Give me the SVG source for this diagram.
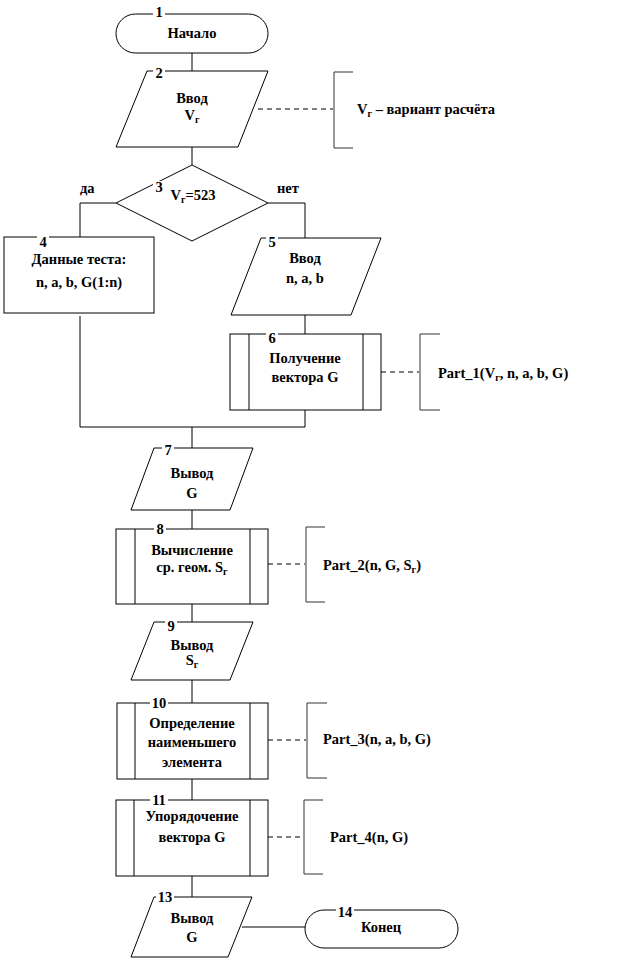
<svg xmlns="http://www.w3.org/2000/svg" width="622" height="960" viewBox="0 0 622 960">
<style>
.s{fill:#fff;stroke:#000;stroke-width:1}
.l{fill:none;stroke:#000;stroke-width:1}
.d{fill:none;stroke:#000;stroke-width:1;stroke-dasharray:5,4}
.b{fill:none;stroke:#333;stroke-width:1}
text{font-family:"Liberation Serif","Times New Roman",serif;font-weight:bold;font-size:14.5px;fill:#000}
.c{text-anchor:middle}
.sub{font-size:10px}
.nb{fill:#fff;stroke:none}
</style>
<rect width="622" height="960" fill="#fff"/>
<g id="connectors">
<line class="l" x1="192" y1="53" x2="192" y2="71"/>
<line class="l" x1="192" y1="147" x2="192" y2="165"/>
<polyline class="l" points="116,203 80,203 80,237"/>
<polyline class="l" points="268,203 305,203 305,238"/>
<line class="l" x1="305" y1="315" x2="305" y2="334"/>
<line class="l" x1="80" y1="316" x2="80" y2="427"/>
<polyline class="l" points="80,427 305,427 305,410"/>
<line class="l" x1="192" y1="427" x2="192" y2="448"/>
<line class="l" x1="192" y1="510" x2="192" y2="529"/>
<line class="l" x1="192" y1="604" x2="192" y2="622"/>
<line class="l" x1="192" y1="680" x2="192" y2="703"/>
<line class="l" x1="192" y1="779" x2="192" y2="800"/>
<line class="l" x1="192" y1="876" x2="192" y2="897"/>
<line class="l" x1="242" y1="927" x2="305" y2="927"/>
<line class="d" x1="258" y1="109" x2="333" y2="109"/>
<line class="d" x1="381" y1="372" x2="419" y2="372"/>
<line class="d" x1="268" y1="564" x2="305" y2="564"/>
<line class="d" x1="268" y1="740" x2="306" y2="740"/>
<line class="d" x1="268" y1="837" x2="303" y2="837"/>
</g>
<g id="n1">
<rect class="s" x="116" y="14" width="152" height="39" rx="19.5"/>
<rect class="nb" x="153" y="8" width="12" height="10"/>
<text class="c" x="159" y="17">1</text>
<text class="c" x="192" y="38">Начало</text>
</g>
<g id="n2">
<polygon class="s" points="147,71 268,71 238,147 116,147"/>
<rect class="nb" x="153" y="68" width="12" height="6"/>
<text class="c" x="159" y="78">2</text>
<text class="c" x="192" y="103">Ввод</text>
<text class="c" x="192" y="120">V<tspan class="sub" dy="3">г</tspan></text>
</g>
<g id="a2">
<polyline class="b" points="353,72 334,72 334,148 353,148"/>
<text x="357" y="114">V<tspan class="sub" dy="3">г</tspan><tspan dy="-3"> – вариант расчёта</tspan></text>
</g>
<g id="n3">
<polygon class="s" points="192,165 268,203 192,241 116,203"/>
<rect class="nb" x="153" y="181" width="12" height="10"/>
<text class="c" x="159" y="192">3</text>
<text class="c" x="193" y="200">V<tspan class="sub" dy="3">г</tspan><tspan dy="-3">=523</tspan></text>
<text x="80" y="193">да</text>
<text x="277" y="193">нет</text>
</g>
<g id="n4">
<rect class="s" x="4" y="237" width="150" height="76"/>
<rect class="nb" x="37" y="234" width="12" height="6"/>
<text class="c" x="43" y="247">4</text>
<text class="c" x="79" y="264">Данные теста:</text>
<text class="c" x="79" y="287">n, a, b, G(1:n)</text>
</g>
<g id="n5">
<polygon class="s" points="261,238 381,238 351,315 231,315"/>
<rect class="nb" x="266" y="235" width="12" height="6"/>
<text class="c" x="272" y="247">5</text>
<text class="c" x="305" y="263">Ввод</text>
<text class="c" x="305" y="283">n, a, b</text>
</g>
<g id="n6">
<rect class="s" x="230" y="334" width="151" height="76"/>
<line class="l" x1="249" y1="334" x2="249" y2="410"/>
<line class="l" x1="363" y1="334" x2="363" y2="410"/>
<rect class="nb" x="266" y="331" width="12" height="6"/>
<text class="c" x="272" y="343">6</text>
<text class="c" x="305" y="363">Получение</text>
<text class="c" x="305" y="382">вектора G</text>
</g>
<g id="a6">
<polyline class="b" points="440,334 420,334 420,410 440,410"/>
<text x="438" y="378">Part_1(V<tspan class="sub" dy="3">г</tspan><tspan dy="-3">, n, a, b, G)</tspan></text>
</g>
<g id="n7">
<polygon class="s" points="154,448 253,448 230,510 131,510"/>
<rect class="nb" x="162" y="445" width="12" height="6"/>
<text class="c" x="168" y="455">7</text>
<text class="c" x="192" y="478">Вывод</text>
<text class="c" x="192" y="498">G</text>
</g>
<g id="n8">
<rect class="s" x="116" y="529" width="152" height="75"/>
<line class="l" x1="135" y1="529" x2="135" y2="604"/>
<line class="l" x1="250" y1="529" x2="250" y2="604"/>
<rect class="nb" x="154" y="526" width="12" height="6"/>
<text class="c" x="160" y="534">8</text>
<text class="c" x="192" y="555">Вычисление</text>
<text class="c" x="192" y="572">ср. геом. S<tspan class="sub" dy="3">г</tspan></text>
</g>
<g id="a8">
<polyline class="b" points="325,527 306,527 306,602 325,602"/>
<text x="323" y="570">Part_2(n, G, S<tspan class="sub" dy="3">г</tspan><tspan dy="-3">)</tspan></text>
</g>
<g id="n9">
<polygon class="s" points="154,622 253,622 230,680 131,680"/>
<rect class="nb" x="165" y="619" width="12" height="6"/>
<text class="c" x="171" y="631">9</text>
<text class="c" x="192" y="650">Вывод</text>
<text class="c" x="192" y="665">S<tspan class="sub" dy="3">г</tspan></text>
</g>
<g id="n10">
<rect class="s" x="117" y="703" width="151" height="76"/>
<line class="l" x1="135" y1="703" x2="135" y2="779"/>
<line class="l" x1="250" y1="703" x2="250" y2="779"/>
<rect class="nb" x="150" y="700" width="18" height="6"/>
<text class="c" x="159" y="708">10</text>
<text class="c" x="192" y="728">Определение</text>
<text class="c" x="192" y="747">наименьшего</text>
<text class="c" x="192" y="767">элемента</text>
</g>
<g id="a10">
<polyline class="b" points="327,703 307,703 307,778 327,778"/>
<text x="323" y="744">Part_3(n, a, b, G)</text>
</g>
<g id="n11">
<rect class="s" x="116" y="800" width="152" height="76"/>
<line class="l" x1="134" y1="800" x2="134" y2="876"/>
<line class="l" x1="250" y1="800" x2="250" y2="876"/>
<rect class="nb" x="150" y="797" width="18" height="6"/>
<text class="c" x="159" y="805">11</text>
<text class="c" x="192" y="821">Упорядочение</text>
<text class="c" x="192" y="842">вектора G</text>
</g>
<g id="a11">
<polyline class="b" points="323,800 304,800 304,874 323,874"/>
<text x="330" y="842">Part_4(n, G)</text>
</g>
<g id="n13">
<polygon class="s" points="154,897 252,897 228,957 131,957"/>
<rect class="nb" x="156" y="894" width="18" height="6"/>
<text class="c" x="165" y="902">13</text>
<text class="c" x="192" y="923">Вывод</text>
<text class="c" x="192" y="942">G</text>
</g>
<g id="n14">
<rect class="s" x="305" y="910" width="153" height="38" rx="19"/>
<rect class="nb" x="336" y="907" width="18" height="6"/>
<text class="c" x="345" y="917">14</text>
<text class="c" x="381" y="932">Конец</text>
</g>
</svg>
